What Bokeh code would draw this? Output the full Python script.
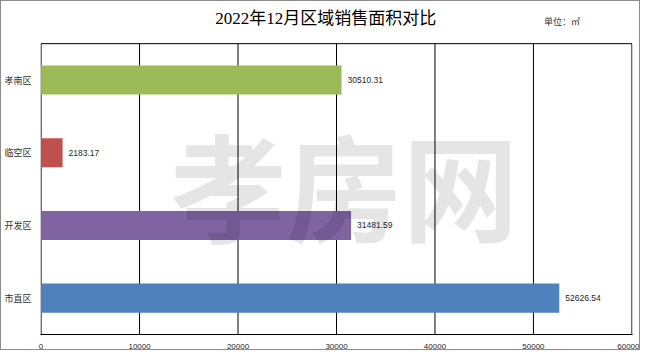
from bokeh.plotting import figure
from bokeh.models import ColumnDataSource, Range1d, FixedTicker
from bokeh.core.properties import value
from bokeh.embed import file_html
from bokeh.resources import INLINE

# data
categories = ["市直区", "开发区", "临空区", "孝南区"]  # bottom to top
sales_area = [52626.54, 31481.59, 2183.17, 30510.31]
value_labels = ["52626.54", "31481.59", "2183.17", "30510.31"]
bar_colors = ["#4F81BD", "#8064A2", "#C0504D", "#9BBB59"]
x_ticks = [0, 10000, 20000, 30000, 40000, 50000, 60000]
title_text = "2022年12月区域销售面积对比"
unit_text = "单位：㎡"
watermark_text = "孝房网"

n = len(categories)
y_pos = [i + 0.5 for i in range(n)]
x_min, x_max = x_ticks[0], x_ticks[-1]
y_top = n * 1.145  # extra room above the plot area for the titles

src = ColumnDataSource(dict(y=y_pos, val=sales_area, lab=value_labels, col=bar_colors))

p = figure(width=640, height=350, output_backend="svg", toolbar_location=None,
           x_range=Range1d(x_min - 60, x_max + 60), y_range=Range1d(0, y_top),
           min_border_left=33, min_border_right=9, min_border_top=0, min_border_bottom=14)
p.styles = {"border": "1px solid #8c8c8c"}
p.background_fill_color = "white"
p.border_fill_color = "white"
p.outline_line_color = None

# plot-area grid and box
p.segment(x0=x_ticks, y0=[0] * len(x_ticks), x1=x_ticks, y1=[n] * len(x_ticks),
          line_color="black", line_width=1)
p.segment(x0=[x_min], y0=[n], x1=[x_max], y1=[n], line_color="black", line_width=1)

p.hbar(y="y", right="val", height=0.4, left=0, fill_color="col", line_color=None, source=src)

p.text(x="val", y="y", text="lab", source=src, x_offset=6, text_baseline="middle",
       text_align="left", text_font=value("Liberation Sans"), text_font_size="8.5px",
       text_color="#262626")

# axes
p.xaxis.ticker = FixedTicker(ticks=x_ticks)
p.xaxis.major_tick_line_color = None
p.xaxis.minor_tick_line_color = None
p.xaxis.axis_line_color = "black"
p.xaxis.major_label_text_font = "Liberation Sans"
p.xaxis.major_label_text_font_size = "8px"
p.xaxis.major_label_text_color = "#262626"
p.xaxis.major_label_standoff = 3

p.yaxis.ticker = FixedTicker(ticks=y_pos)
p.yaxis.major_label_overrides = {y: c for y, c in zip(y_pos, categories)}
p.yaxis.major_tick_line_color = None
p.yaxis.minor_tick_line_color = None
p.yaxis.axis_line_color = None
p.yaxis.major_label_text_font = "Noto Sans CJK SC"
p.yaxis.major_label_text_font_size = "9px"
p.yaxis.major_label_text_color = "#333333"
p.yaxis.major_label_standoff = 3

p.xgrid.grid_line_color = None
p.ygrid.grid_line_color = None

# watermark
p.text(x=[30800], y=[2.1], text=[watermark_text], text_align="center",
       text_baseline="middle", text_font=value("Noto Sans CJK SC"), text_font_style="bold",
       text_font_size="116px", text_color="black", text_alpha=0.1)

# title and unit note
p.text(x=[28900], y=[n + 0.34], text=[title_text], text_align="center", text_baseline="middle",
       text_font=value("Liberation Serif, Noto Sans CJK SC"), text_font_size="17px",
       text_color="black")
p.text(x=[52900], y=[n + 0.31], text=[unit_text], text_align="center", text_baseline="middle",
       text_font=value("Noto Sans CJK SC"), text_font_size="9px", text_color="#333333")

open("out.html", "w").write(file_html(p, INLINE))
